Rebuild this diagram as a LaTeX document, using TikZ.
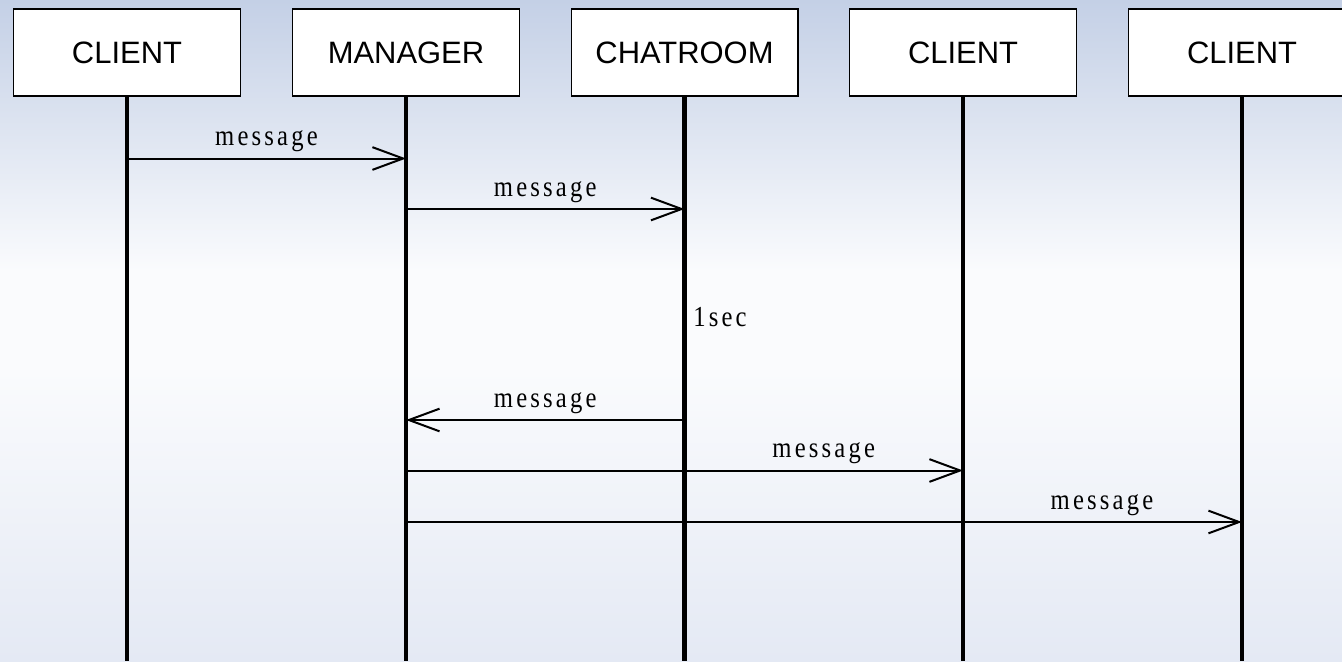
\documentclass[tikz,border=0pt]{standalone}
\usepackage{fontspec}
\setmainfont{Liberation Serif}
\setsansfont{Liberation Sans}
\newfontfamily\msgfont[FakeStretch=0.85,LetterSpace=11]{Liberation Serif}
\usetikzlibrary{arrows.meta}
\definecolor{bgtop}{RGB}{196,208,230}
\definecolor{bgmid}{RGB}{250,251,253}
\definecolor{bgbot}{RGB}{228,233,244}
\begin{document}
\begin{tikzpicture}[x=0.75pt,y=-0.75pt,
  box/.style={draw=black,line width=1.1pt,fill=white,minimum width=169.9pt,
    minimum height=65.2pt,inner sep=0pt,font=\sffamily\fontsize{23.2}{27}\selectfont},
  lifeline/.style={line width=3.2pt},
  msg/.style={line width=1.5pt,-{Straight Barb[length=23pt,width=17pt]}},
  lbl/.style={font=\msgfont\fontsize{21.75}{24}\selectfont,anchor=base,inner sep=0pt,yshift=9.5pt}]
  \useasboundingbox (0,0) rectangle (1342,661);
  \clip (0,0) rectangle (1342,661);
  % background gradient
  \fill[top color=bgtop,bottom color=bgmid] (0,0) rectangle (1342,271);
  \fill[bgmid] (0,270) rectangle (1342,371);
  \fill[top color=bgmid,bottom color=bgbot] (0,370) rectangle (1342,661);

  % participants
  \node[box] (c1)   at (127,52.5)   {CLIENT};
  \node[box] (mgr)  at (406,52.5)   {MANAGER};
  \node[box] (room) at (684.5,52.5) {CHATROOM};
  \node[box] (c2)   at (963,52.5)   {CLIENT};
  \node[box] (c3)   at (1242,52.5)  {CLIENT};

  % lifelines
  \coordinate (c1e)   at (127,661);
  \coordinate (mgre)  at (406,661);
  \coordinate (roome) at (684.5,661);
  \coordinate (c2e)   at (963,661);
  \coordinate (c3e)   at (1242,661);
  \draw[lifeline] (c1.south) -- (c1e);
  \draw[lifeline] (mgr.south) -- (mgre);
  \draw[lifeline] (room.south) -- (roome);
  \draw[lifeline] (c2.south) -- (c2e);
  \draw[lifeline] (c3.south) -- (c3e);

  % message points on the lifelines
  \coordinate (p1a) at (127,158.5);   \coordinate (p1b) at (406,158.5);
  \coordinate (p2a) at (406,209);     \coordinate (p2b) at (684.5,209);
  \coordinate (p3a) at (684.5,420);   \coordinate (p3b) at (406,420);
  \coordinate (p4a) at (406,470.5);   \coordinate (p4b) at (963,470.5);
  \coordinate (p5a) at (406,522);     \coordinate (p5b) at (1242,522);

  % messages
  \draw[msg] (p1a) -- (p1b) node[lbl,pos=0.5]   {message};
  \draw[msg] (p2a) -- (p2b) node[lbl,pos=0.5]   {message};
  \draw[msg] (p3a) -- (p3b) node[lbl,pos=0.5]   {message};
  \draw[msg] (p4a) -- (p4b) node[lbl,pos=0.75]  {message};
  \draw[msg] (p5a) -- (p5b) node[lbl,pos=0.8325]{message};

  % waiting time on the chatroom lifeline
  \node[font=\msgfont\fontsize{21.75}{24}\selectfont,anchor=base west,inner sep=0pt] (wait) at (693,326) {1sec};
\end{tikzpicture}
\end{document}
